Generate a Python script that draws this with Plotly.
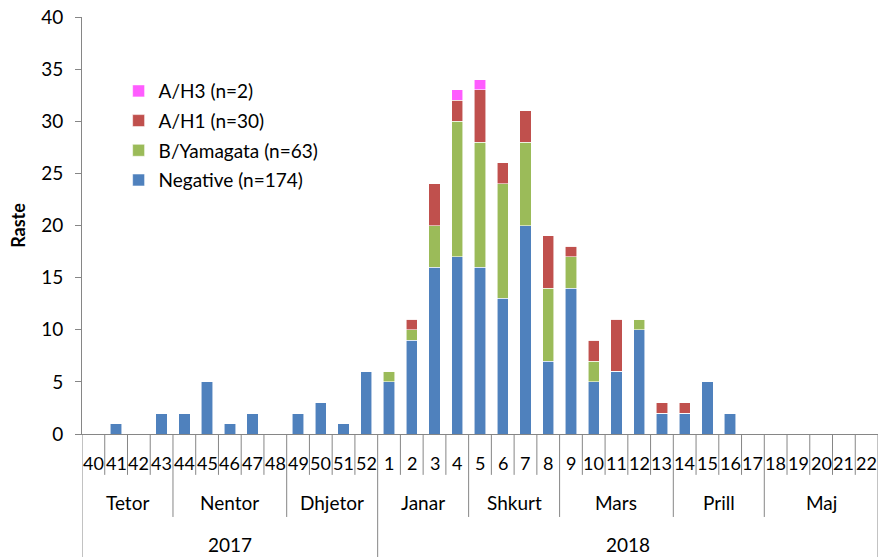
import plotly.graph_objects as go

weeks = ["40","41","42","43","44","45","46","47","48","49","50","51","52",
         "1","2","3","4","5","6","7","8","9","10","11","12","13","14","15","16","17","18","19","20","21","22"]
negative = [0,1,0,2,2,5,1,2,0,2,3,1,6,
            5,9,16,17,16,13,20,7,14,5,6,10,2,2,5,2,0,0,0,0,0,0]
b_yamagata = [0,0,0,0,0,0,0,0,0,0,0,0,0,
              1,1,4,13,12,11,8,7,3,2,0,1,0,0,0,0,0,0,0,0,0,0]
a_h1 = [0,0,0,0,0,0,0,0,0,0,0,0,0,
        0,1,4,2,5,2,3,5,1,2,5,0,1,1,0,0,0,0,0,0,0,0]
a_h3 = [0,0,0,0,0,0,0,0,0,0,0,0,0,
        0,0,0,1,1,0,0,0,0,0,0,0,0,0,0,0,0,0,0,0,0,0]

months = ["Tetor","Nentor","Dhjetor","Janar","Shkurt","Mars","Prill","Maj"]
month_spans = [4,5,4,4,4,5,4,5]
years = ["2017","2018"]
year_spans = [13,22]

series = [
    ("Negative (n=174)", negative, "#4F81BD", 4),
    ("B/Yamagata (n=63)", b_yamagata, "#9BBB59", 3),
    ("A/H1 (n=30)", a_h1, "#C0504D", 2),
    ("A/H3 (n=2)", a_h3, "#FF5CFF", 1),
]

FONT = "Lato"
fig = go.Figure()
for name, vals, col, rank in series:
    fig.add_trace(go.Bar(
        x=list(range(len(weeks))), y=vals, name=name, legendgroup=name, legendrank=rank,
        marker=dict(color=col, line=dict(color="rgba(255,255,255,0.7)", width=0.8)),
    ))

axis_col = "#868686"
shapes = []
annotations = []
month_bounds = [0]
for s in month_spans:
    month_bounds.append(month_bounds[-1] + s)
year_bounds = [0]
for s in year_spans:
    year_bounds.append(year_bounds[-1] + s)

Y_WEEK_BOTTOM = -0.098
Y_MONTH_BOTTOM = -0.199
Y_YEAR_BOTTOM = -0.33
for i in range(len(weeks) + 1):
    if i in year_bounds:
        y1 = Y_YEAR_BOTTOM
    elif i in month_bounds:
        y1 = Y_MONTH_BOTTOM
    else:
        y1 = Y_WEEK_BOTTOM
    shapes.append(dict(type="line", xref="x", yref="paper", x0=i - 0.5, x1=i - 0.5,
                       y0=0, y1=y1, line=dict(color=axis_col, width=1)))

for i, w in enumerate(weeks):
    annotations.append(dict(x=i, y=-0.07, xref="x", yref="paper", text=w, showarrow=False,
                            font=dict(family=FONT, size=18, color="#000"), yanchor="middle"))
for k, m in enumerate(months):
    c = month_bounds[k] + (month_spans[k] - 1) / 2
    annotations.append(dict(x=c, y=-0.165, xref="x", yref="paper", text=m, showarrow=False,
                            font=dict(family=FONT, size=19, color="#000"), yanchor="middle"))
for k, yv in enumerate(years):
    c = year_bounds[k] + (year_spans[k] - 1) / 2
    annotations.append(dict(x=c, y=-0.266, xref="x", yref="paper", text=yv, showarrow=False,
                            font=dict(family=FONT, size=19, color="#000"), yanchor="middle"))

fig.update_layout(
    width=895, height=557,
    margin=dict(l=82, r=17, t=17, b=123),
    barmode="stack", bargap=0.5,
    plot_bgcolor="white", paper_bgcolor="white",
    font=dict(family=FONT, size=19, color="#000"),
    showlegend=True,
    legend=dict(x=0.046, y=0.868, xanchor="left", yanchor="top", traceorder="grouped",
                tracegroupgap=2, font=dict(family=FONT, size=19), bgcolor="rgba(0,0,0,0)",
                itemwidth=30),
    shapes=shapes, annotations=annotations,
    xaxis=dict(range=[-0.5, len(weeks) - 0.5], showticklabels=False, ticks="",
               showline=True, linecolor=axis_col, showgrid=False, zeroline=False,
               fixedrange=True, automargin=False),
    yaxis=dict(range=[0, 40], dtick=5, ticks="outside", ticklen=6, tickcolor=axis_col,
               showline=True, linecolor=axis_col, showgrid=False, zeroline=False,
               ticklabelstandoff=8, automargin=False, tickfont=dict(size=19),
               title=dict(text="<b>Raste</b>", font=dict(family=FONT, size=18), standoff=10)),
)
fig.write_html("out.html", config={"displayModeBar": False},
               post_script="document.body.style.margin='0';")
